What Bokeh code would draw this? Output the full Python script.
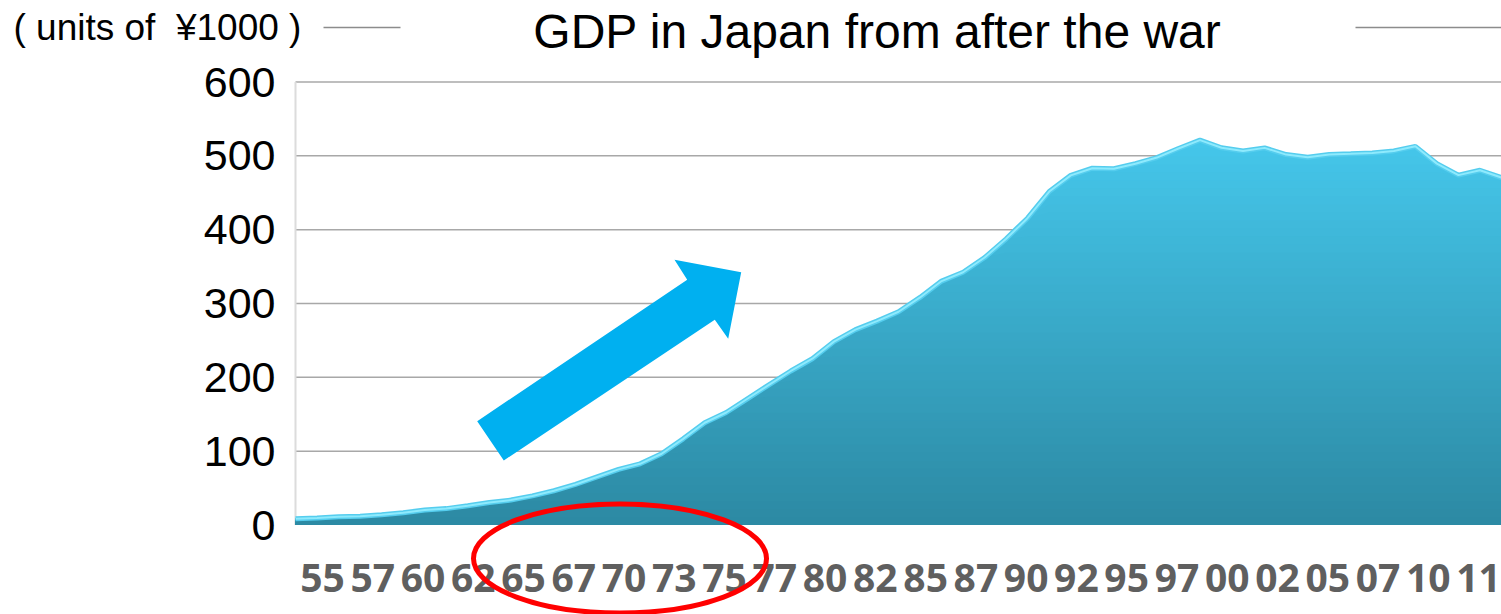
import numpy as np
from bokeh.plotting import figure
from bokeh.models import Range1d, FixedTicker, Label
from bokeh.core.properties import value
from bokeh.embed import file_html
from bokeh.resources import INLINE

# ---------------- data ----------------
years = list(range(1955, 2012))
gdp = [8.4, 9.4, 11.1, 11.9, 13.9, 16.7, 20.2, 22.2, 26.0, 30.4,
       33.8, 39.4, 46.4, 54.9, 65.1, 75.3, 82.9, 96.5, 116.7, 138.5,
       152.4, 171.3, 190.1, 208.6, 225.2, 248.4, 264.6, 276.2, 288.8, 308.2,
       330.4, 342.3, 362.3, 387.7, 415.9, 451.7, 473.6, 483.3, 482.6, 489.4,
       497.7, 509.9, 521.3, 510.9, 506.6, 510.8, 501.7, 498.0, 501.9, 502.8,
       503.9, 506.7, 512.9, 489.5, 473.9, 480.5, 470.6]
tick_labels = ["55", "57", "60", "62", "65", "67", "70", "73", "75", "77", "80", "82",
               "85", "87", "90", "92", "95", "97", "00", "02", "05", "07", "10", "11"]
y_ticks = [0, 100, 200, 300, 400, 500, 600]
title_text = "GDP in Japan from after the war"
unit_text = "( units of \u00a0\u00a51000 )"

# ---------------- geometry (page pixels) ----------------
W, H = 1501, 614
FL, FR = 295, 1501              # where the first / last year sit
X0, X1 = years[0], years[-1]
Y0PX, PXU = 524.5, 0.7383       # page y of value 0, px per unit


def sx(px):
    return X0 + (px - FL) * (X1 - X0) / (FR - FL)


def sy(py):
    return (Y0PX - py) / PXU


TICK0, TICKN = 322.0, 1478.0
tstep = (TICKN - TICK0) / (len(tick_labels) - 1)

p = figure(width=W, height=H, output_backend="svg", toolbar_location=None,
           x_range=Range1d(sx(0), sx(W)), y_range=Range1d(sy(H), sy(0)),
           x_axis_location=None,
           min_border_left=0, min_border_right=0,
           min_border_top=0, min_border_bottom=0)
p.outline_line_color = None
p.background_fill_color = "white"
p.border_fill_color = "white"
p.xgrid.visible = False
p.ygrid.visible = False
p.extra_x_ranges = {"ticks": Range1d(-TICK0 / tstep, (W - TICK0) / tstep)}

# y axis drawn inside the frame at the first year
p.yaxis.fixed_location = X0
p.yaxis.ticker = FixedTicker(ticks=y_ticks)
p.yaxis.major_label_text_font = "Liberation Sans"
p.yaxis.major_label_text_font_size = "43px"
p.yaxis.major_label_text_color = "#000000"
p.yaxis.axis_line_color = None
p.yaxis.major_tick_line_color = None
p.yaxis.minor_tick_line_color = None
p.yaxis.major_tick_out = 0
p.yaxis.major_tick_in = 0
p.yaxis.major_label_standoff = 20

# grid lines over the data span
gl = y_ticks[1:]
p.segment(x0=[X0] * len(gl), y0=gl, x1=[X1] * len(gl), y1=gl,
          line_color="#a8a8a8", line_width=1.5)
# faint left axis line
p.segment(x0=[X0], y0=[y_ticks[0]], x1=[X0], y1=[y_ticks[-1]],
          line_color="#dcdcdc", line_width=2)

# gradient area (stacked bands, painter's order)
vals = np.array(gdp, dtype=float)
vmax = vals.max()
top_c = np.array([0x45, 0xc7, 0xeb], dtype=float)
bot_c = np.array([0x2c, 0x89, 0xa3], dtype=float)
nb = 48
for i in range(nb - 1, -1, -1):
    hi = vmax * (i + 1) / nb
    t = (i + 0.5) / nb
    c = bot_c + (top_c - bot_c) * t
    col = "#%02x%02x%02x" % tuple(int(round(v)) for v in c)
    p.varea(x=years, y1=np.zeros_like(vals), y2=np.minimum(vals, hi), fill_color=col)

p.line(years, gdp, line_color="#55cdee", line_width=5)
p.line(years, gdp, line_color="#8eeafd", line_width=2)

# blue arrow
arrow_px = [(476.7, 420.7), (686.7, 279.3), (674.0, 259.3), (740.7, 271.7),
            (727.7, 338.3), (714.3, 319.3), (503.3, 460.0)]
p.patch([sx(a) for a, b in arrow_px], [sy(b) for a, b in arrow_px],
        fill_color="#00b0f0", line_color=None)

# x tick labels
p.text(x=list(range(len(tick_labels))), y=[sy(577)] * len(tick_labels), text=tick_labels,
       x_range_name="ticks", text_font=value("Open Sans"),
       text_font_style="bold", text_font_size="39px", text_color="#5f5f5f",
       text_align="center", text_baseline="alphabetic")

# red ellipse
p.ellipse(x=[sx(619.5)], y=[sy(558)], width=[293], height=[109],
          width_units="screen", height_units="screen",
          fill_color=None, line_color="#ff0000", line_width=5)

# title decoration lines
p.segment(x0=[sx(323), sx(1355)], y0=[sy(27)] * 2, x1=[sx(400), sx(W)], y1=[sy(27)] * 2,
          line_color="#8c8c8c", line_width=1.5)

p.add_layout(Label(x=sx(877), y=sy(31), text=title_text, text_align="center",
                   text_baseline="alphabetic", text_font="Liberation Sans",
                   text_font_size="48px", text_color="#000000"))
p.add_layout(Label(x=sx(13), y=sy(27), text=unit_text, text_align="left",
                   text_baseline="alphabetic", text_font="Liberation Sans",
                   text_font_size="37px", text_color="#000000"))

open("out.html", "w").write(file_html(p, INLINE))
